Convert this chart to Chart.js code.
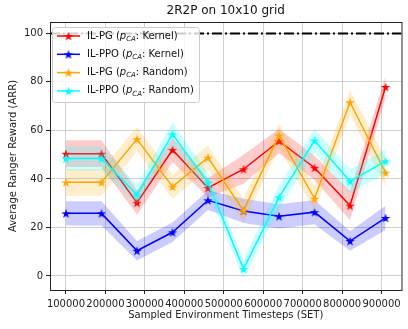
<!DOCTYPE html>
<html>
<head>
<meta charset="utf-8">
<script src="https://cdn.jsdelivr.net/npm/chart.js@4"></script>
<style>
  body { margin: 0; background: #fff; }
  canvas { display: block; }
</style>
</head>
<body>
<canvas class="js-chart" width="408" height="329"></canvas>
<script>
const ctx = document.querySelector(".js-chart").getContext("2d");
const FONT = "DejaVu Sans";

// sampled environment timesteps
const steps = [100000, 190000, 280000, 370000, 460000, 550000, 640000, 730000, 820000, 910000];

// IL-PG (kernel)
const pgKernel = [50.4, 50.4, 30.2, 52.0, 36.3, 44.0, 55.6, 44.6, 29.0, 77.9];
const pgKernelStd = [5.5, 5.5, 5, 5, 4, 6, 5, 5, 6, 4.5];
// IL-PPO (kernel)
const ppoKernel = [25.8, 25.8, 10.4, 18.0, 31.2, 26.8, 24.6, 26.3, 14.4, 23.9];
const ppoKernelStd = [5, 5, 4, 4, 4, 5, 5, 5, 4, 5];
// IL-PG (random)
const pgRandom = [38.6, 38.6, 56.4, 36.8, 48.8, 26.9, 57.9, 31.9, 71.6, 42.6];
const pgRandomStd = [5.5, 5.5, 5, 5, 5, 5, 5, 5, 5, 6];
// IL-PPO (random)
const ppoRandom = [48.4, 48.4, 33.5, 58.4, 38.5, 2.9, 32.4, 55.8, 39.0, 47.3];
const ppoRandomStd = [5, 5, 4, 5, 4, 4, 5, 5, 5, 5];

const xTicks = [100000, 200000, 300000, 400000, 500000, 600000, 700000, 800000, 900000];
const yTicks = [0, 20, 40, 60, 80, 100];
const MAX_REWARD = 100;

const series = [
  { name: ["IL-PG (", ": Kernel)"], values: pgKernel, std: pgKernelStd, color: "#ff0000", fill: "rgba(255,0,0,0.2)" },
  { name: ["IL-PPO (", ": Kernel)"], values: ppoKernel, std: ppoKernelStd, color: "#0000ff", fill: "rgba(0,0,255,0.2)" },
  { name: ["IL-PG (", ": Random)"], values: pgRandom, std: pgRandomStd, color: "#ffa500", fill: "rgba(255,165,0,0.2)" },
  { name: ["IL-PPO (", ": Random)"], values: ppoRandom, std: ppoRandomStd, color: "#00ffff", fill: "rgba(0,255,255,0.2)" },
];

function makeStar(color, size) {
  const c = document.createElement("canvas");
  c.width = c.height = size;
  const g = c.getContext("2d");
  const r = size / 2;
  const ri = r * 0.382;
  g.beginPath();
  for (let i = 0; i < 10; i++) {
    const a = -Math.PI / 2 + (i * Math.PI) / 5;
    const rr = i % 2 ? ri : r;
    g.lineTo(r + rr * Math.cos(a), r + 0.5 + rr * Math.sin(a));
  }
  g.closePath();
  g.fillStyle = color;
  g.fill();
  return c;
}

function toPoints(xs, ys) {
  return xs.map((x, i) => ({ x, y: ys[i] }));
}

const datasets = [];
series.forEach((s) => {
  s.star = makeStar(s.color, 10);
  datasets.push({
    data: toPoints(steps, s.values.map((v, i) => v - s.std[i])),
    borderWidth: 0,
    pointRadius: 0,
    fill: false,
  });
  datasets.push({
    data: toPoints(steps, s.values.map((v, i) => v + s.std[i])),
    borderWidth: 0,
    pointRadius: 0,
    backgroundColor: s.fill,
    fill: "-1",
  });
  datasets.push({
    data: toPoints(steps, s.values),
    borderColor: s.color,
    borderWidth: 1.5,
    pointStyle: s.star,
    pointRadius: 5,
    fill: false,
  });
});
datasets.forEach((d, i) => {
  d.order = -i;
  d.tension = 0;
});

const framePlugin = {
  id: "frame",
  beforeDatasetsDraw(chart) {
    // dash-dot reference line
    const { ctx, chartArea: a, scales } = chart;
    const y = scales.y.getPixelForValue(MAX_REWARD);
    ctx.save();
    ctx.beginPath();
    ctx.rect(a.left, a.top, a.right - a.left, a.bottom - a.top);
    ctx.clip();
    ctx.strokeStyle = "#000";
    ctx.lineWidth = 2;
    ctx.setLineDash([10, 3, 2, 3]);
    ctx.beginPath();
    ctx.moveTo(a.left, y);
    ctx.lineTo(a.right, y);
    ctx.stroke();
    ctx.restore();
  },
  afterDatasetsDraw(chart) {
    const { ctx, chartArea: a } = chart;
    ctx.save();
    ctx.strokeStyle = "#222";
    ctx.lineWidth = 1;
    ctx.strokeRect(a.left + 0.5, a.top + 0.5, a.right - a.left, a.bottom - a.top);

    // title
    ctx.fillStyle = "#111";
    ctx.font = "12px " + FONT;
    ctx.textAlign = "center";
    ctx.textBaseline = "middle";
    ctx.fillText("2R2P on 10x10 grid", (a.left + a.right) / 2, 11);

    // legend
    const bx = 52, by = 27, bw = 147, bh = 75;
    ctx.fillStyle = "rgba(255,255,255,0.8)";
    ctx.strokeStyle = "#cccccc";
    ctx.beginPath();
    ctx.roundRect(bx + 0.5, by + 0.5, bw, bh, 3);
    ctx.fill();
    ctx.stroke();
    ctx.textAlign = "left";
    ctx.textBaseline = "middle";
    series.forEach((s, i) => {
      const ry = 36 + i * 18.3;
      ctx.strokeStyle = s.color;
      ctx.lineWidth = 1.5;
      ctx.beginPath();
      ctx.moveTo(57, ry);
      ctx.lineTo(80, ry);
      ctx.stroke();
      ctx.drawImage(s.star, 68.5 - 5, ry - 5);
      let x = 87;
      ctx.fillStyle = "#111";
      ctx.font = "10px " + FONT;
      ctx.fillText(s.name[0], x, ry);
      x += ctx.measureText(s.name[0]).width;
      ctx.font = "italic 10px " + FONT;
      ctx.fillText("p", x, ry);
      x += ctx.measureText("p").width;
      ctx.font = "italic 7px " + FONT;
      ctx.fillText("CA", x, ry + 3);
      x += ctx.measureText("CA").width;
      ctx.font = "10px " + FONT;
      ctx.fillText(s.name[1], x, ry);
    });
    ctx.restore();
  },
};

new Chart(ctx, {
  type: "line",
  data: { datasets },
  plugins: [framePlugin],
  options: {
    responsive: false,
    animation: false,
    layout: { padding: { top: 22, right: 1, left: 0, bottom: 0 } },
    plugins: {
      legend: { display: false },
      tooltip: { enabled: false },
    },
    scales: {
      x: {
        type: "linear",
        min: 59500,
        max: 950500,
        afterBuildTicks(scale) {
          scale.ticks = xTicks.map((value) => ({ value }));
        },
        afterFit(scale) {
          scale.height = 39;
        },
        grid: { color: "#cfcfcf", tickColor: "#222", tickLength: 4 },
        border: { display: false },
        ticks: {
          color: "#222",
          font: { family: FONT, size: 10 },
          padding: 4,
          maxRotation: 0,
          autoSkip: false,
          callback: (v) => String(v),
        },
        title: {
          display: true,
          text: "Sampled Environment Timesteps (SET)",
          color: "#222",
          font: { family: FONT, size: 10 },
          padding: { top: 0, bottom: 8 },
        },
      },
      y: {
        type: "linear",
        min: -5.8,
        max: 104.7,
        afterBuildTicks(scale) {
          scale.ticks = yTicks.map((value) => ({ value }));
        },
        afterFit(scale) {
          scale.width = 50;
        },
        grid: { color: "#cfcfcf", tickColor: "#222", tickLength: 4 },
        border: { display: false },
        ticks: {
          color: "#222",
          font: { family: FONT, size: 10 },
          padding: 3,
        },
        title: {
          display: true,
          text: "Average Ranger Reward (ARR)",
          color: "#222",
          font: { family: FONT, size: 10 },
          padding: { top: 7, bottom: 0 },
        },
      },
    },
  },
});
</script>
</body>
</html>
